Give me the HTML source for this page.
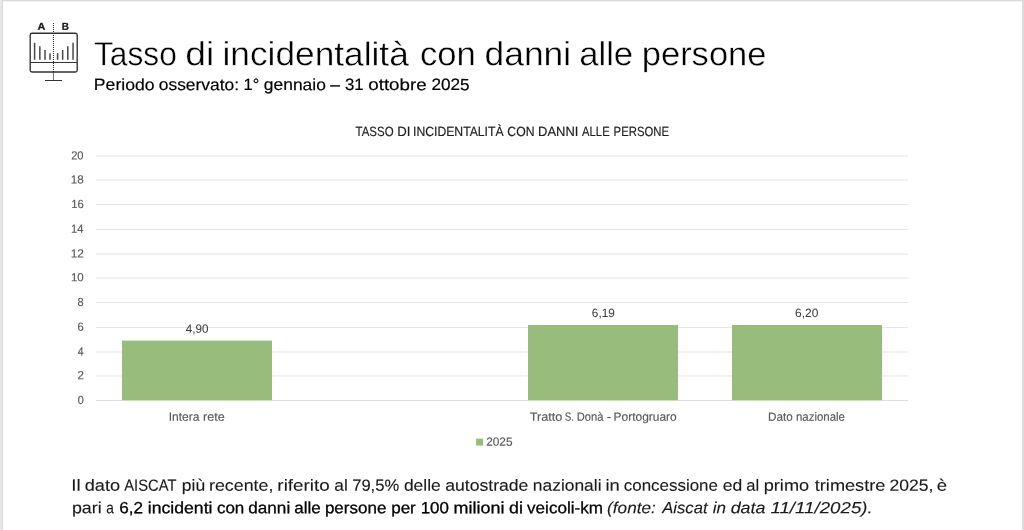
<!DOCTYPE html>
<html lang="it">
<head>
<meta charset="utf-8">
<title>Tasso di incidentalità con danni alle persone</title>
<style>
html,body{margin:0;padding:0;background:#fff;}
body{width:1024px;height:530px;overflow:hidden;position:relative;font-family:"Liberation Sans",sans-serif;}
svg{display:block;position:absolute;left:0;top:0;}
text{font-family:"Liberation Sans",sans-serif;white-space:pre;text-rendering:geometricPrecision;}
</style>
</head>
<body>
<svg width="1024" height="530" viewBox="0 0 1024 530">
<defs><filter id="soft" x="0" y="0" width="1024" height="530" filterUnits="userSpaceOnUse" color-interpolation-filters="sRGB"><feGaussianBlur stdDeviation="0.3"/></filter></defs>
<rect x="0" y="0" width="1024" height="530" fill="#fff"/>
<!-- frame -->
<rect x="0" y="0" width="1024" height="1" fill="#d9d9d9"/>
<rect x="0" y="1" width="1024" height="1" fill="#f1f1f1"/>
<rect x="0" y="0" width="2" height="530" fill="#e7e7e7"/>
<rect x="2" y="0" width="1" height="530" fill="#d9d9d9"/>
<rect x="1022" y="0" width="2" height="530" fill="#dbdbdb"/>

<!-- icon -->
<g id="icon" fill="none" stroke="#333">
<rect x="30.2" y="33.2" width="47" height="38.8" rx="1.8" stroke-width="1.35"/>
<line x1="30.2" y1="62.5" x2="77.2" y2="62.5" stroke-width="1.2"/>
<line x1="53.45" y1="23" x2="53.45" y2="72" stroke="#222" stroke-width="1" stroke-dasharray="1 1"/>
<line x1="53.45" y1="72" x2="53.45" y2="80.4" stroke-width="0.7"/>
<line x1="45" y1="80.5" x2="62.1" y2="80.5" stroke-width="1"/>
<g stroke="#484848" stroke-width="1.5">
<line x1="34.6" y1="42.8" x2="34.6" y2="59.8"/>
<line x1="39.85" y1="46.2" x2="39.85" y2="59.8"/>
<line x1="45" y1="50" x2="45" y2="59.8"/>
<line x1="50.05" y1="53.2" x2="50.05" y2="59.8"/>
<line x1="57.6" y1="53.2" x2="57.6" y2="59.8"/>
<line x1="62.65" y1="50" x2="62.65" y2="59.8"/>
<line x1="67.8" y1="46.2" x2="67.8" y2="59.8"/>
<line x1="73.05" y1="42.8" x2="73.05" y2="59.8"/>
</g>
</g>
<text transform="matrix(1.08 0.001 0 1 41.5 29.8)" font-size="10" font-weight="bold" text-anchor="middle" fill="#1a1a1a" stroke="#1a1a1a" stroke-width="0.3">A</text>
<text transform="matrix(1 0.001 0 1 65.25 29.8)" font-size="10" font-weight="bold" text-anchor="middle" fill="#1a1a1a" stroke="#1a1a1a" stroke-width="0.3">B</text>

<!-- chart -->
<g id="grid">
<rect x="96" y="399.95" width="26" height="1" fill="#dcdcdc"/>
<rect x="272" y="399.95" width="256" height="1" fill="#dcdcdc"/>
<rect x="678" y="399.95" width="54" height="1" fill="#dcdcdc"/>
<rect x="882" y="399.95" width="26" height="1" fill="#dcdcdc"/>
<rect x="96" y="375.40" width="812" height="1" fill="#e4e4e4"/>
<rect x="96" y="351.50" width="812" height="1" fill="#e4e4e4"/>
<rect x="96" y="326.90" width="812" height="1" fill="#e4e4e4"/>
<rect x="96" y="301.95" width="812" height="1" fill="#e4e4e4"/>
<rect x="96" y="277.40" width="812" height="1" fill="#e4e4e4"/>
<rect x="96" y="253.50" width="812" height="1" fill="#e4e4e4"/>
<rect x="96" y="228.90" width="812" height="1" fill="#e4e4e4"/>
<rect x="96" y="203.95" width="812" height="1" fill="#e4e4e4"/>
<rect x="96" y="179.50" width="812" height="1" fill="#e4e4e4"/>
<rect x="96" y="155.50" width="812" height="1" fill="#e4e4e4"/>
</g>
<g id="bars">
<rect x="122" y="340.60" width="150.00" height="59.90" fill="#98bc7c"/>
<rect x="528" y="325.00" width="150.00" height="75.50" fill="#98bc7c"/>
<rect x="732" y="325.00" width="150.00" height="75.50" fill="#98bc7c"/>
<rect x="476.1" y="438.6" width="6.9" height="7.0" fill="#98bc7c"/>
</g>
<g id="labels" filter="url(#soft)">
<g id="title">
<text transform="matrix(0.9472 0.001 0 1 93.93 65.30)" font-size="33.5" fill="#000" stroke="#fff" stroke-width="0.4" stroke-linejoin="round">Tasso</text>
<text transform="matrix(1.1132 0.001 0 1 185.31 65.30)" font-size="33.5" fill="#000" stroke="#fff" stroke-width="0.4" stroke-linejoin="round">di</text>
<text transform="matrix(1.0529 0.001 0 1 222.47 65.30)" font-size="33.5" fill="#000" stroke="#fff" stroke-width="0.4" stroke-linejoin="round">incidentalità</text>
<text transform="matrix(1.0348 0.001 0 1 419.94 65.30)" font-size="33.5" fill="#000" stroke="#fff" stroke-width="0.4" stroke-linejoin="round">con</text>
<text transform="matrix(1.0575 0.001 0 1 484.48 65.30)" font-size="33.5" fill="#000" stroke="#fff" stroke-width="0.4" stroke-linejoin="round">danni</text>
<text transform="matrix(1.0354 0.001 0 1 579.15 65.30)" font-size="33.5" fill="#000" stroke="#fff" stroke-width="0.4" stroke-linejoin="round">alle</text>
<text transform="matrix(1.0305 0.001 0 1 641.73 65.30)" font-size="33.5" fill="#000" stroke="#fff" stroke-width="0.4" stroke-linejoin="round">persone</text>
</g>
<g id="subtitle">
<text transform="matrix(1.0744 0.001 0 1 93.86 90.10)" font-size="16.4" fill="#000" stroke="#000" stroke-width="0.2" stroke-linejoin="round">Periodo</text>
<text transform="matrix(1.0603 0.001 0 1 158.83 90.10)" font-size="16.4" fill="#000" stroke="#000" stroke-width="0.2" stroke-linejoin="round">osservato:</text>
<text transform="matrix(1.0032 0.001 0 1 243.55 90.10)" font-size="16.4" fill="#000" stroke="#000" stroke-width="0.2" stroke-linejoin="round">1°</text>
<text transform="matrix(1.0627 0.001 0 1 263.84 90.10)" font-size="16.4" fill="#000" stroke="#000" stroke-width="0.2" stroke-linejoin="round">gennaio</text>
<text transform="matrix(1.0609 0.001 0 1 330.25 90.10)" font-size="16.4" fill="#000" stroke="#000" stroke-width="0.2" stroke-linejoin="round">–</text>
<text transform="matrix(1.0217 0.001 0 1 344.88 90.10)" font-size="16.4" fill="#000" stroke="#000" stroke-width="0.2" stroke-linejoin="round">31</text>
<text transform="matrix(1.1418 0.001 0 1 368.29 90.10)" font-size="16.4" fill="#000" stroke="#000" stroke-width="0.2" stroke-linejoin="round">ottobre</text>
<text transform="matrix(1.0489 0.001 0 1 431.42 90.10)" font-size="16.4" fill="#000" stroke="#000" stroke-width="0.2" stroke-linejoin="round">2025</text>
</g>
<g id="chart-title">
<text transform="matrix(0.8555 0.001 0 1 355.56 135.90)" font-size="13.4" fill="#1f1f1f" stroke="#1f1f1f" stroke-width="0.2" stroke-linejoin="round">TASSO</text>
<text transform="matrix(0.9833 0.001 0 1 397.34 135.90)" font-size="13.4" fill="#1f1f1f" stroke="#1f1f1f" stroke-width="0.2" stroke-linejoin="round">DI</text>
<text transform="matrix(0.9102 0.001 0 1 413.06 135.90)" font-size="13.4" fill="#1f1f1f" stroke="#1f1f1f" stroke-width="0.2" stroke-linejoin="round">INCIDENTALITÀ</text>
<text transform="matrix(0.9114 0.001 0 1 507.33 135.90)" font-size="13.4" fill="#1f1f1f" stroke="#1f1f1f" stroke-width="0.2" stroke-linejoin="round">CON</text>
<text transform="matrix(0.9692 0.001 0 1 538.02 135.90)" font-size="13.4" fill="#1f1f1f" stroke="#1f1f1f" stroke-width="0.2" stroke-linejoin="round">DANNI</text>
<text transform="matrix(0.8397 0.001 0 1 582.12 135.90)" font-size="13.4" fill="#1f1f1f" stroke="#1f1f1f" stroke-width="0.2" stroke-linejoin="round">ALLE</text>
<text transform="matrix(0.8455 0.001 0 1 613.60 135.90)" font-size="13.4" fill="#1f1f1f" stroke="#1f1f1f" stroke-width="0.2" stroke-linejoin="round">PERSONE</text>
</g>
<g id="axis-labels">
<text transform="matrix(0.9169 0.001 0 1 77.67 403.90)" font-size="11.8" fill="#595959" stroke="#595959" stroke-width="0.15" stroke-linejoin="round">0</text>
<text transform="matrix(0.9744 0.001 0 1 77.46 379.35)" font-size="11.8" fill="#595959" stroke="#595959" stroke-width="0.15" stroke-linejoin="round">2</text>
<text transform="matrix(0.8817 0.001 0 1 77.73 355.45)" font-size="11.8" fill="#595959" stroke="#595959" stroke-width="0.15" stroke-linejoin="round">4</text>
<text transform="matrix(0.9446 0.001 0 1 77.54 330.85)" font-size="11.8" fill="#595959" stroke="#595959" stroke-width="0.15" stroke-linejoin="round">6</text>
<text transform="matrix(0.9279 0.001 0 1 77.56 305.90)" font-size="11.8" fill="#595959" stroke="#595959" stroke-width="0.15" stroke-linejoin="round">8</text>
<text transform="matrix(0.9775 0.001 0 1 70.91 281.35)" font-size="11.8" fill="#595959" stroke="#595959" stroke-width="0.15" stroke-linejoin="round">10</text>
<text transform="matrix(1.0063 0.001 0 1 70.76 257.45)" font-size="11.8" fill="#595959" stroke="#595959" stroke-width="0.15" stroke-linejoin="round">12</text>
<text transform="matrix(0.9462 0.001 0 1 70.96 232.85)" font-size="11.8" fill="#595959" stroke="#595959" stroke-width="0.15" stroke-linejoin="round">14</text>
<text transform="matrix(0.9571 0.001 0 1 71.13 207.90)" font-size="11.8" fill="#595959" stroke="#595959" stroke-width="0.15" stroke-linejoin="round">16</text>
<text transform="matrix(0.9818 0.001 0 1 70.80 183.45)" font-size="11.8" fill="#595959" stroke="#595959" stroke-width="0.15" stroke-linejoin="round">18</text>
<text transform="matrix(0.9463 0.001 0 1 71.15 159.45)" font-size="11.8" fill="#595959" stroke="#595959" stroke-width="0.15" stroke-linejoin="round">20</text>
</g>
<g id="data-labels">
<text transform="matrix(0.9726 0.001 0 1 185.81 332.80)" font-size="12.0" fill="#404040" stroke="#404040" stroke-width="0.05" stroke-linejoin="round">4,90</text>
<text transform="matrix(0.9800 0.001 0 1 591.84 317.00)" font-size="12.0" fill="#404040" stroke="#404040" stroke-width="0.05" stroke-linejoin="round">6,19</text>
<text transform="matrix(0.9985 0.001 0 1 795.04 317.00)" font-size="12.0" fill="#404040" stroke="#404040" stroke-width="0.05" stroke-linejoin="round">6,20</text>
</g>
<g id="category-labels">
<text transform="matrix(1.0017 0.001 0 1 168.73 420.80)" font-size="12.0" fill="#595959" stroke="#595959" stroke-width="0.15" stroke-linejoin="round">Intera</text>
<text transform="matrix(1.0479 0.001 0 1 202.97 420.80)" font-size="12.0" fill="#595959" stroke="#595959" stroke-width="0.15" stroke-linejoin="round">rete</text>
<text transform="matrix(1.0584 0.001 0 1 529.73 420.80)" font-size="12.0" fill="#595959" stroke="#595959" stroke-width="0.15" stroke-linejoin="round">Tratto</text>
<text transform="matrix(0.8121 0.001 0 1 564.69 420.80)" font-size="12.0" fill="#595959" stroke="#595959" stroke-width="0.15" stroke-linejoin="round">S.</text>
<text transform="matrix(0.9292 0.001 0 1 576.67 420.80)" font-size="12.0" fill="#595959" stroke="#595959" stroke-width="0.15" stroke-linejoin="round">Donà</text>
<text transform="matrix(1.1495 0.001 0 1 606.63 420.80)" font-size="12.0" fill="#595959" stroke="#595959" stroke-width="0.15" stroke-linejoin="round">-</text>
<text transform="matrix(0.9959 0.001 0 1 613.60 420.80)" font-size="12.0" fill="#595959" stroke="#595959" stroke-width="0.15" stroke-linejoin="round">Portogruaro</text>
<text transform="matrix(0.9736 0.001 0 1 768.01 420.80)" font-size="12.0" fill="#595959" stroke="#595959" stroke-width="0.15" stroke-linejoin="round">Dato</text>
<text transform="matrix(0.9533 0.001 0 1 795.95 420.80)" font-size="12.0" fill="#595959" stroke="#595959" stroke-width="0.15" stroke-linejoin="round">nazionale</text>
</g>
<g id="legend-label">
<text transform="matrix(0.9892 0.001 0 1 486.17 445.80)" font-size="12.0" fill="#595959" stroke="#595959" stroke-width="0.15" stroke-linejoin="round">2025</text>
</g>
<g id="note">
<text transform="matrix(1.1605 0.001 0 1 71.23 490.75)" font-size="16.2" fill="#1a1a1a" stroke="#1a1a1a" stroke-width="0.12" stroke-linejoin="round">Il</text>
<text transform="matrix(1.1233 0.001 0 1 84.65 490.75)" font-size="16.2" fill="#1a1a1a" stroke="#1a1a1a" stroke-width="0.12" stroke-linejoin="round">dato</text>
<text transform="matrix(0.9116 0.001 0 1 124.25 490.75)" font-size="16.2" fill="#1a1a1a" stroke="#1a1a1a" stroke-width="0.12" stroke-linejoin="round">AISCAT</text>
<text transform="matrix(1.0824 0.001 0 1 181.76 490.75)" font-size="16.2" fill="#1a1a1a" stroke="#1a1a1a" stroke-width="0.12" stroke-linejoin="round">più</text>
<text transform="matrix(1.1017 0.001 0 1 208.99 490.75)" font-size="16.2" fill="#1a1a1a" stroke="#1a1a1a" stroke-width="0.12" stroke-linejoin="round">recente,</text>
<text transform="matrix(1.1615 0.001 0 1 277.37 490.75)" font-size="16.2" fill="#1a1a1a" stroke="#1a1a1a" stroke-width="0.12" stroke-linejoin="round">riferito</text>
<text transform="matrix(1.0698 0.001 0 1 334.27 490.75)" font-size="16.2" fill="#1a1a1a" stroke="#1a1a1a" stroke-width="0.12" stroke-linejoin="round">al</text>
<text transform="matrix(1.0266 0.001 0 1 352.14 490.75)" font-size="16.2" fill="#1a1a1a" stroke="#1a1a1a" stroke-width="0.12" stroke-linejoin="round">79,5%</text>
<text transform="matrix(1.0778 0.001 0 1 403.88 490.75)" font-size="16.2" fill="#1a1a1a" stroke="#1a1a1a" stroke-width="0.12" stroke-linejoin="round">delle</text>
<text transform="matrix(1.0880 0.001 0 1 445.18 490.75)" font-size="16.2" fill="#1a1a1a" stroke="#1a1a1a" stroke-width="0.12" stroke-linejoin="round">autostrade</text>
<text transform="matrix(1.0747 0.001 0 1 532.83 490.75)" font-size="16.2" fill="#1a1a1a" stroke="#1a1a1a" stroke-width="0.12" stroke-linejoin="round">nazionali</text>
<text transform="matrix(1.1363 0.001 0 1 605.50 490.75)" font-size="16.2" fill="#1a1a1a" stroke="#1a1a1a" stroke-width="0.12" stroke-linejoin="round">in</text>
<text transform="matrix(1.0447 0.001 0 1 623.85 490.75)" font-size="16.2" fill="#1a1a1a" stroke="#1a1a1a" stroke-width="0.12" stroke-linejoin="round">concessione</text>
<text transform="matrix(1.0847 0.001 0 1 722.68 490.75)" font-size="16.2" fill="#1a1a1a" stroke="#1a1a1a" stroke-width="0.12" stroke-linejoin="round">ed</text>
<text transform="matrix(1.0226 0.001 0 1 746.34 490.75)" font-size="16.2" fill="#1a1a1a" stroke="#1a1a1a" stroke-width="0.12" stroke-linejoin="round">al</text>
<text transform="matrix(1.1210 0.001 0 1 763.74 490.75)" font-size="16.2" fill="#1a1a1a" stroke="#1a1a1a" stroke-width="0.12" stroke-linejoin="round">primo</text>
<text transform="matrix(1.1217 0.001 0 1 814.76 490.75)" font-size="16.2" fill="#1a1a1a" stroke="#1a1a1a" stroke-width="0.12" stroke-linejoin="round">trimestre</text>
<text transform="matrix(1.0841 0.001 0 1 889.40 490.75)" font-size="16.2" fill="#1a1a1a" stroke="#1a1a1a" stroke-width="0.12" stroke-linejoin="round">2025,</text>
<text transform="matrix(1.1434 0.001 0 1 936.85 490.75)" font-size="16.2" fill="#1a1a1a" stroke="#1a1a1a" stroke-width="0.12" stroke-linejoin="round">è</text>
<text transform="matrix(1.1022 0.001 0 1 71.90 513.25)" font-size="16.2" fill="#1a1a1a" stroke="#1a1a1a" stroke-width="0.12" stroke-linejoin="round">pari</text>
<text transform="matrix(0.8438 0.001 0 1 106.20 513.25)" font-size="16.2" fill="#1a1a1a" stroke="#1a1a1a" stroke-width="0.12" stroke-linejoin="round">a</text>
<text transform="matrix(1.0588 0.001 0 1 119.17 513.25)" font-size="16.2" fill="#000" stroke="#000" stroke-width="0.3" stroke-linejoin="round">6,2</text>
<text transform="matrix(1.0900 0.001 0 1 147.77 513.25)" font-size="16.2" fill="#000" stroke="#000" stroke-width="0.3" stroke-linejoin="round">incidenti</text>
<text transform="matrix(1.0481 0.001 0 1 216.91 513.25)" font-size="16.2" fill="#000" stroke="#000" stroke-width="0.3" stroke-linejoin="round">con</text>
<text transform="matrix(1.0569 0.001 0 1 248.33 513.25)" font-size="16.2" fill="#000" stroke="#000" stroke-width="0.3" stroke-linejoin="round">danni</text>
<text transform="matrix(1.0495 0.001 0 1 294.36 513.25)" font-size="16.2" fill="#000" stroke="#000" stroke-width="0.3" stroke-linejoin="round">alle</text>
<text transform="matrix(1.0500 0.001 0 1 324.91 513.25)" font-size="16.2" fill="#000" stroke="#000" stroke-width="0.3" stroke-linejoin="round">persone</text>
<text transform="matrix(1.0530 0.001 0 1 391.16 513.25)" font-size="16.2" fill="#000" stroke="#000" stroke-width="0.3" stroke-linejoin="round">per</text>
<text transform="matrix(1.0456 0.001 0 1 420.69 513.25)" font-size="16.2" fill="#000" stroke="#000" stroke-width="0.3" stroke-linejoin="round">100</text>
<text transform="matrix(1.1076 0.001 0 1 453.57 513.25)" font-size="16.2" fill="#000" stroke="#000" stroke-width="0.3" stroke-linejoin="round">milioni</text>
<text transform="matrix(1.1001 0.001 0 1 509.02 513.25)" font-size="16.2" fill="#000" stroke="#000" stroke-width="0.3" stroke-linejoin="round">di</text>
<text transform="matrix(1.0537 0.001 0 1 527.09 513.25)" font-size="16.2" fill="#000" stroke="#000" stroke-width="0.3" stroke-linejoin="round">veicoli-km</text>
<text transform="matrix(1.0605 0.001 0 1 607.11 513.25)" font-size="16.2" fill="#1a1a1a" font-style="italic" stroke="#1a1a1a" stroke-width="0.12" stroke-linejoin="round">(fonte:</text>
<text transform="matrix(1.0293 0.001 0 1 662.15 513.25)" font-size="16.2" fill="#1a1a1a" font-style="italic" stroke="#1a1a1a" stroke-width="0.12" stroke-linejoin="round">Aiscat</text>
<text transform="matrix(1.0551 0.001 0 1 712.67 513.25)" font-size="16.2" fill="#1a1a1a" font-style="italic" stroke="#1a1a1a" stroke-width="0.12" stroke-linejoin="round">in</text>
<text transform="matrix(1.1052 0.001 0 1 730.66 513.25)" font-size="16.2" fill="#1a1a1a" font-style="italic" stroke="#1a1a1a" stroke-width="0.12" stroke-linejoin="round">data</text>
<text transform="matrix(1.1567 0.001 0 1 770.40 513.25)" font-size="16.2" fill="#1a1a1a" font-style="italic" stroke="#1a1a1a" stroke-width="0.12" stroke-linejoin="round">11/11/2025).</text>
</g>
</g>
</svg>
</body>
</html>
